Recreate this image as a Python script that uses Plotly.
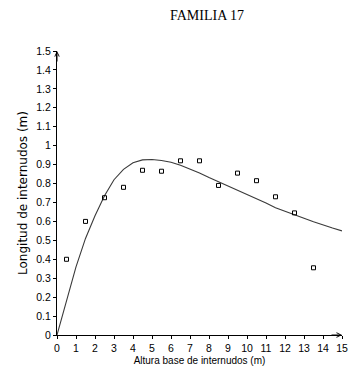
import plotly.graph_objects as go

# Observed data
obs_x = [0.5, 1.5, 2.5, 3.5, 4.5, 5.5, 6.5, 7.5, 8.5, 9.5, 10.5, 11.5, 12.5, 13.5]
obs_y = [0.40, 0.60, 0.725, 0.78, 0.87, 0.865, 0.92, 0.92, 0.79, 0.855, 0.815, 0.73, 0.645, 0.355]

# Fitted curve
fit_x = [0, 0.5, 1, 1.5, 2, 2.5, 3, 3.5, 4, 4.5, 5, 5.5, 6, 6.5, 7, 7.5, 8, 8.5, 9, 9.5,
         10, 10.5, 11, 11.5, 12, 12.5, 13, 13.5, 14, 14.5, 15]
fit_y = [0, 0.18, 0.36, 0.51, 0.63, 0.735, 0.82, 0.875, 0.91, 0.925, 0.927, 0.922, 0.912,
         0.897, 0.878, 0.856, 0.832, 0.81, 0.787, 0.765, 0.745, 0.722, 0.697, 0.672,
         0.655, 0.638, 0.617, 0.598, 0.58, 0.565, 0.55]

x_ticks = list(range(0, 16))
y_ticks = [i / 10 for i in range(0, 16)]
y_ticktext = ["0", "0.1", "0.2", "0.3", "0.4", "0.5", "0.6", "0.7", "0.8", "0.9",
              "1", "1.1", "1.2", "1.3", "1.4", "1.5"]

L, R, T, B, W, H = 57, 12, 51, 35, 360, 377

fig = go.Figure()
fig.add_trace(go.Scatter(x=fit_x, y=fit_y, mode="lines",
                         line=dict(color="#3a3a3a", width=1.1), hoverinfo="skip"))
fig.add_trace(go.Scatter(x=obs_x, y=obs_y, mode="markers",
                         marker=dict(symbol="square-open", size=4,
                                     color="#000000", line=dict(width=1))))

fig.update_layout(
    width=W, height=H,
    margin=dict(l=L, r=R, t=T, b=B),
    paper_bgcolor="white", plot_bgcolor="white",
    showlegend=False,
    font=dict(family="Liberation Sans, Arial, sans-serif", size=10, color="black"),
    xaxis=dict(range=[0, 15], tickvals=x_ticks, ticktext=[str(v) for v in x_ticks],
               showgrid=False, zeroline=False, showline=True, linecolor="black",
               linewidth=1, ticks="outside", ticklen=3, tickcolor="black",
               tickfont=dict(size=10.5),
               title=dict(text="Altura base de internudos (m)",
                          font=dict(size=10), standoff=4)),
    yaxis=dict(range=[0, 1.5], tickvals=y_ticks, ticktext=y_ticktext,
               showgrid=False, zeroline=False, showline=True, linecolor="black",
               linewidth=1, ticks="outside", ticklen=3, tickcolor="black",
               tickfont=dict(size=10.5),
               title=dict(text="Longitud de internudos (m)",
                          font=dict(family="DejaVu Sans, sans-serif", size=12), standoff=6)),
)

# Axis arrow heads
fig.add_annotation(x=15, y=0, xref="x", yref="y", ax=-12, ay=0, text="",
                   showarrow=True, arrowhead=5, arrowsize=0.9, arrowwidth=1,
                   arrowcolor="black")
fig.add_annotation(x=0, y=1.5, xref="x", yref="y", ax=0, ay=12, text="",
                   showarrow=True, arrowhead=5, arrowsize=0.9, arrowwidth=1,
                   arrowcolor="black")

# Title
fig.add_annotation(xref="paper", yref="paper",
                   x=(210 - L) / (W - L - R), y=1 + (T - 15) / (H - T - B),
                   xanchor="center", yanchor="middle",
                   text="FAMILIA 17", showarrow=False,
                   font=dict(family="Liberation Serif, Times New Roman, serif",
                             size=14, color="black"))

fig.write_html("out.html", config={"displayModeBar": False},
               post_script="document.body.style.margin='0';")
